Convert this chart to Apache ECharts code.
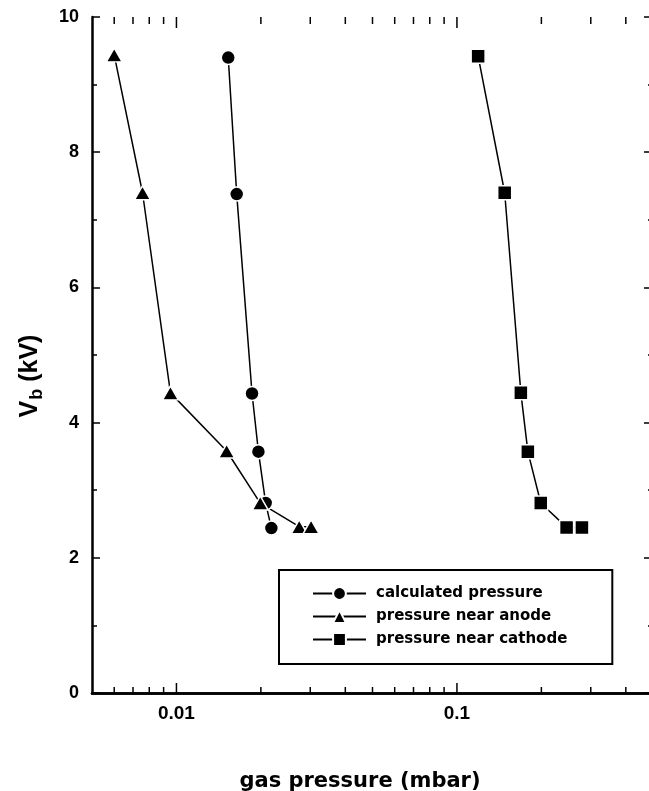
<!DOCTYPE html>
<html>
<head>
<meta charset="utf-8">
<script src="https://cdn.jsdelivr.net/npm/echarts@6/dist/echarts.min.js"></script>
<style>
  html, body { margin: 0; padding: 0; background: #fff; }
  #chart { width: 649px; height: 791px; }
</style>
</head>
<body>
<div id="chart"></div>
<script>
// Breakdown voltage V_b (kV) against gas pressure (mbar), three pressure estimates
const calcPressure = [0.0153, 0.0164, 0.0186, 0.0196, 0.0208, 0.0218];
const calcVoltage  = [9.40, 7.38, 4.43, 3.57, 2.81, 2.44];

const anodePressure = [0.0060, 0.00757, 0.00952, 0.0151, 0.0199, 0.0274, 0.0302];
const anodeVoltage  = [9.44, 7.40, 4.44, 3.58, 2.81, 2.46, 2.46];

const cathodePressure = [0.119, 0.148, 0.169, 0.179, 0.199, 0.246, 0.279];
const cathodeVoltage  = [9.42, 7.40, 4.44, 3.57, 2.81, 2.45, 2.45];

const seriesNames = ['calculated pressure', 'pressure near anode', 'pressure near cathode'];

// log-axis decade labels and the in-between minor ticks
const xTickValues = [0.01, 0.1];
const xTickLabels = ['0.01', '0.1'];
const xMinorTicks = [0.006, 0.007, 0.008, 0.009,
                     0.02, 0.03, 0.04, 0.05, 0.06, 0.07, 0.08, 0.09,
                     0.2, 0.3, 0.4];

const X_MIN = 0.005, X_MAX = 0.5, Y_MIN = 0, Y_MAX = 10;

const pairs = (xs, ys) => xs.map((x, i) => [x, ys[i]]);

const chart = echarts.init(document.getElementById('chart'), null, { renderer: 'canvas' });

const axisLine = { show: true, lineStyle: { color: '#000', width: 2.5 } };
const tickFont = { fontFamily: 'Liberation Sans', fontWeight: 'bold', color: '#000' };

function xLabel(v) {
  for (let i = 0; i < xTickValues.length; i++) {
    if (Math.abs(Math.log10(v) - Math.log10(xTickValues[i])) < 1e-6) return xTickLabels[i];
  }
  return '';
}

const lineSeries = (name, data, symbol, size) => ({
  name, type: 'line', data, symbol, symbolSize: size,
  lineStyle: { color: '#000', width: 1.5 },
  itemStyle: { color: '#000', borderColor: '#fff', borderWidth: 1.5 },
  emphasis: { disabled: true },
  animation: false,
  z: 3
});

// inward tick marks on the bottom and top edges of the frame, placed through the x scale
const tickSeries = (values, lenBottom, lenTop) => ({
  type: 'custom', silent: true, animation: false, z: 4,
  data: values.map(v => [v, Y_MIN]),
  renderItem: (params, api) => {
    const v = api.value(0);
    const b = api.coord([v, Y_MIN]);
    const t = api.coord([v, Y_MAX]);
    const st = { stroke: '#000', lineWidth: 1.5 };
    return {
      type: 'group',
      children: [
        { type: 'line', shape: { x1: b[0], y1: b[1], x2: b[0], y2: b[1] - lenBottom }, style: st },
        { type: 'line', shape: { x1: t[0], y1: t[1], x2: t[0], y2: t[1] + lenTop }, style: st }
      ]
    };
  }
});

const option = {
  backgroundColor: '#fff',
  animation: false,
  grid: { left: 92, top: 17, right: -4, bottom: 98, outerBoundsMode: 'none', containLabel: false },
  xAxis: [
    {
      type: 'log', logBase: 10, min: X_MIN, max: X_MAX, position: 'bottom',
      axisLine,
      axisTick: { show: false },
      axisLabel: { ...tickFont, fontSize: 19, margin: 11, formatter: xLabel, showMinLabel: false, showMaxLabel: false },
      splitLine: { show: false }, minorTick: { show: false }
    },
    {
      type: 'log', logBase: 10, min: X_MIN, max: X_MAX, position: 'top',
      axisLine,
      axisTick: { show: false },
      axisLabel: { show: false },
      splitLine: { show: false }
    }
  ],
  yAxis: [
    {
      type: 'value', min: Y_MIN, max: Y_MAX, interval: 2, position: 'left',
      axisLine,
      axisTick: { show: true, inside: true, length: 8, lineStyle: { color: '#000', width: 1.5 } },
      minorTick: { show: true, splitNumber: 2, length: 5, lineStyle: { color: '#000', width: 1.5 } },
      axisLabel: { ...tickFont, fontSize: 18, margin: 13 },
      splitLine: { show: false }
    },
    {
      type: 'value', min: Y_MIN, max: Y_MAX, interval: 2, position: 'right',
      axisLine,
      axisTick: { show: true, inside: true, length: 9, lineStyle: { color: '#000', width: 1.5 } },
      minorTick: { show: true, splitNumber: 2, length: 5, lineStyle: { color: '#000', width: 1.5 } },
      axisLabel: { show: false },
      splitLine: { show: false }
    }
  ],
  legend: {
    data: seriesNames,
    orient: 'vertical',
    left: 279, top: 570,
    padding: [16, 45, 17, 33],
    itemWidth: 53, itemHeight: 16, itemGap: 8,
    borderColor: '#000', borderWidth: 2,
    backgroundColor: '#fff',
    selectedMode: false,
    textStyle: { fontFamily: 'DejaVu Sans', fontWeight: 'bold', fontSize: 15, color: '#000', padding: [0, 0, 0, 5] }
  },
  series: [
    lineSeries(seriesNames[0], pairs(calcPressure, calcVoltage), 'circle', 14),
    lineSeries(seriesNames[1], pairs(anodePressure, anodeVoltage), 'triangle', [16, 14]),
    lineSeries(seriesNames[2], pairs(cathodePressure, cathodeVoltage), 'rect', 14),
    tickSeries(xTickValues, 10, 11),
    tickSeries(xMinorTicks, 6, 7)
  ],
  graphic: [
    {
      type: 'text', x: 360, y: 782,
      style: {
        text: 'gas pressure (mbar)',
        font: 'bold 21px "DejaVu Sans"',
        fill: '#000', align: 'center', verticalAlign: 'middle'
      }
    },
    {
      type: 'text', x: 30, y: 376, rotation: Math.PI / 2,
      style: {
        text: '{v|V}{s|b}{v| (kV)}',
        fill: '#000', align: 'center', verticalAlign: 'middle',
        rich: {
          v: { fontFamily: 'Liberation Sans', fontWeight: 'bold', fontSize: 25, lineHeight: 30, verticalAlign: 'middle' },
          s: { fontFamily: 'Liberation Sans', fontWeight: 'bold', fontSize: 18, padding: [14, 0, 0, 1], verticalAlign: 'middle' }
        }
      }
    }
  ]
};

chart.setOption(option);
</script>
</body>
</html>
